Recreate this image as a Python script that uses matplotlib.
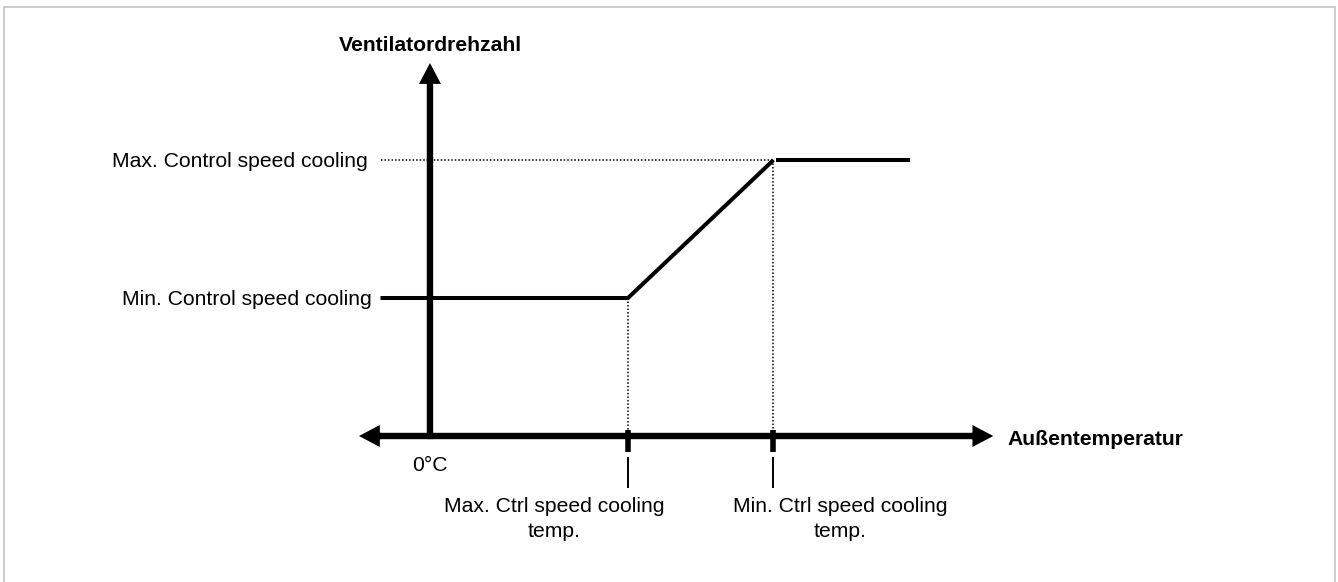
import matplotlib
matplotlib.use("Agg")
import matplotlib.pyplot as plt
from matplotlib.patches import Rectangle

plt.rcParams['font.family'] = ['Liberation Sans', 'DejaVu Sans']

# Fan speed characteristic versus outdoor temperature (cooling mode)
TEMP_MAX_CTRL = 20.0   # temperature at which the minimum speed ends
TEMP_MIN_CTRL = 34.7   # temperature at which the maximum speed is reached
SPEED_MIN = 40.0       # minimum control speed (%)
SPEED_MAX = 80.0       # maximum control speed (%)

ramp_temp = [-5.0, TEMP_MAX_CTRL, TEMP_MIN_CTRL]
ramp_speed = [SPEED_MIN, SPEED_MIN, SPEED_MAX]
plateau_temp = [35.0, 48.5]
plateau_speed = [SPEED_MAX, SPEED_MAX]

speed_labels = ["Min. Control speed cooling", "Max. Control speed cooling"]
temp_labels = ["Max. Ctrl speed cooling\ntemp.", "Min. Ctrl speed cooling\ntemp."]
zero_label = "0°C"
y_title = "Ventilatordrehzahl"
x_title = "Außentemperatur"

FS = 15.2

fig = plt.figure(figsize=(13.38, 5.82), dpi=100)
ax = fig.add_axes([0, 0, 1, 1])
ax.set_xlim(-43.43, 91.72)
ax.set_ylim(-42.32, 126.38)
ax.axis('off')

# light frame around the drawing
fig.add_artist(Rectangle((3.5 / 1338, -0.1), (1334.5 - 3.5) / 1338, 1.1 - 6.5 / 582,
                         transform=fig.transFigure, fill=False,
                         ec='#c0c0c0', lw=1.1))

black = 'black'
dot = dict(color='black', lw=1.1, linestyle=(0, (1, 1.3)), zorder=1)

# guide lines
ax.plot([-4.95, TEMP_MIN_CTRL], [SPEED_MAX, SPEED_MAX], **dot)
ax.plot([TEMP_MAX_CTRL, TEMP_MAX_CTRL], [SPEED_MIN, 1.7], **dot)
ax.plot([TEMP_MIN_CTRL, TEMP_MIN_CTRL], [SPEED_MAX, 1.7], **dot)

# axes with arrow heads
arrow_style = 'simple,head_length=15,head_width=15.8,tail_width=4.6'
def arrow(x0, y0, x1, y1):
    ax.annotate('', xy=(x1, y1), xytext=(x0, y0),
                arrowprops=dict(arrowstyle=arrow_style, mutation_scale=1,
                                fc=black, ec='none', lw=0,
                                shrinkA=0, shrinkB=0), zorder=3)

arrow(0, -0.9, 0, 108.1)
arrow(-4.9, 0, -7.17, 0)
arrow(54.7, 0, 56.9, 0)
ax.plot([-5.3, 55.0], [0, 0], color=black, lw=4.6, solid_capstyle='butt', zorder=3.5)

# markers on the temperature axis
for t in (TEMP_MAX_CTRL, TEMP_MIN_CTRL):
    ax.plot([t, t], [-4.6, 1.7], color=black, lw=4.0, solid_capstyle='butt', zorder=4)
    ax.plot([t, t], [-6.1, -15.1], color=black, lw=1.4, solid_capstyle='butt', zorder=4)

# characteristic curve
ax.plot(ramp_temp, ramp_speed, color=black, lw=2.9, solid_joinstyle='miter',
        solid_capstyle='butt', zorder=5)
ax.plot(plateau_temp, plateau_speed, color=black, lw=2.9, solid_capstyle='butt', zorder=5)

# speed labels
for lab, lev, xr in zip(speed_labels, (SPEED_MIN, SPEED_MAX), (-5.9, -6.26)):
    ax.annotate(lab, xy=(xr, lev), xytext=(0, -5.0), textcoords='offset points',
                ha='right', va='baseline', fontsize=FS)

# temperature labels
ax.text(0, -10.1, zero_label, ha='center', va='baseline', fontsize=FS)
for lab, xc in zip(temp_labels, (12.53, 41.4)):
    ax.text(xc, -29.3, lab, ha='center', va='baseline', fontsize=FS,
            linespacing=1.38, multialignment='center')

# axis titles
ax.text(0, 113.3, y_title, ha='center', va='center', fontsize=FS, fontweight='bold')
ax.text(58.3, -2.5, x_title, ha='left', va='baseline', fontsize=FS, fontweight='bold')

fig.savefig('out.png', dpi=100)
